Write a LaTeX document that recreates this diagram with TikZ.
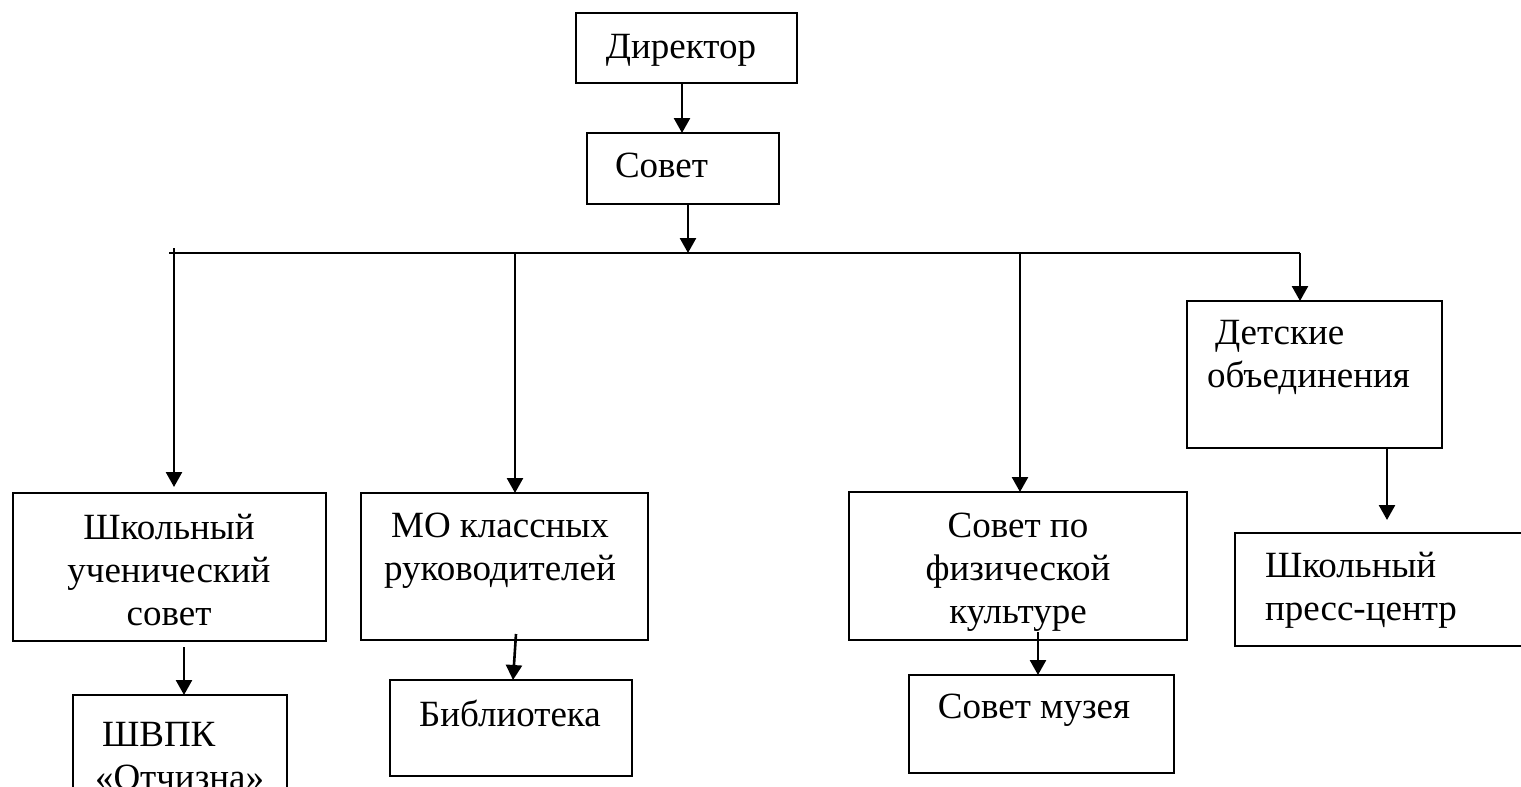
\documentclass[tikz,border=0pt]{standalone}
\usepackage{fontspec}
\setmainfont{Liberation Serif}
\usetikzlibrary{arrows.meta,calc}
\begin{document}
\begin{tikzpicture}[x=1pt,y=-1pt,
  box/.style={draw,line width=2.6pt,inner sep=0pt,outer sep=0pt},
  lbl/.style={inner sep=0pt,outer sep=0pt,font=\fontsize{37}{43}\selectfont},
  arr/.style={line width=2.6pt,-{Triangle[length=15pt,width=16pt]}},
  ln/.style={line width=2.6pt}]
\useasboundingbox (0,0) rectangle (1521,787);
\clip (0,0) rectangle (1521,787);
% boxes
\node[box,minimum width=221pt,minimum height=70pt] (dir) at (686.5,48) {};
\node[box,minimum width=192pt,minimum height=71pt] (sov) at (683,168.5) {};
\node[box,minimum width=313pt,minimum height=148pt] (shk) at (169.5,567) {};
\node[box,minimum width=214pt,minimum height=130pt] (shvpk) at (180,760) {};
\node[box,minimum width=287pt,minimum height=147pt] (mo) at (504.5,566.5) {};
\node[box,minimum width=242pt,minimum height=96pt] (bib) at (511,728) {};
\node[box,minimum width=338pt,minimum height=148pt] (fiz) at (1018,566) {};
\node[box,minimum width=265pt,minimum height=98pt] (muz) at (1041.5,724) {};
\node[box,minimum width=255pt,minimum height=147pt] (det) at (1314.5,374.5) {};
\node[box,minimum width=300pt,minimum height=113pt] (press) at (1385,589.5) {};
% labels (base anchor = baseline of the last line)
\node[lbl,anchor=base] (dirT) at (681,58) {Директор};
\node[lbl,anchor=base west] (sovT) at (615,177) {Совет};
\node[lbl,anchor=base,align=center] (shkT) at (169,625) {Школьный\\ученический\\совет};
\node[lbl,anchor=base west,align=left] (shvpkT) at (95,789) {\hspace*{7pt}ШВПК\\«Отчизна»};
\node[lbl,anchor=base,align=center] (moT) at (500,580) {МО классных\\руководителей};
\node[lbl,anchor=base] (bibT) at (510,726) {Библиотека};
\node[lbl,anchor=base,align=center] (fizT) at (1018,623) {Совет по\\физической\\культуре};
\node[lbl,anchor=base] (muzT) at (1034,718) {Совет музея};
\node[lbl,anchor=base west,align=left] (detT) at (1207,387) {\hspace*{8pt}Детские\\объединения};
\node[lbl,anchor=base west,align=left] (pressT) at (1265,620) {Школьный\\пресс-центр};
% bus
\coordinate (busL) at (169,253);
\coordinate (busR) at (1300,253);
\draw[ln] (busL) -- (busR);
% connector end points
\coordinate (c1) at ($(dir.south)+(-4.5,0)$);
\coordinate (c2) at ($(sov.south)+(5,0)$);
\coordinate (c3) at ($(shk.north)+(4.5,0)$);
\coordinate (c4) at ($(mo.north)+(10.5,0)$);
\coordinate (c5) at ($(fiz.north)+(2,0)$);
\coordinate (c6) at ($(shk.south)+(14.5,0)$);
\coordinate (c7) at ($(fiz.south)+(20,0)$);
\coordinate (c8) at ($(det.south)+(72.5,0)$);
% connectors
\draw[arr] (c1) -- (c1 |- sov.north);
\draw[arr] (c2) -- (c2 |- busL);
\draw[arr] ($(c3 |- busL)+(0,-5)$) -- ($(c3)+(0,-6)$);
\draw[arr] (c4 |- busL) -- (c4);
\draw[arr] (c5 |- busL) -- (c5);
\draw[arr] (busR) -- (busR |- det.north);
\draw[arr] ($(c6)+(0,6)$) -- (c6 |- shvpk.north);
\draw[arr] ($(mo.south)+(11.5,-6)$) -- ($(bib.north)+(2,0)$);
\draw[arr] ($(c7)+(0,-8)$) -- (c7 |- muz.north);
\draw[arr] (c8) -- ($(c8 |- press.north)+(0,-13)$);
\end{tikzpicture}
\end{document}
